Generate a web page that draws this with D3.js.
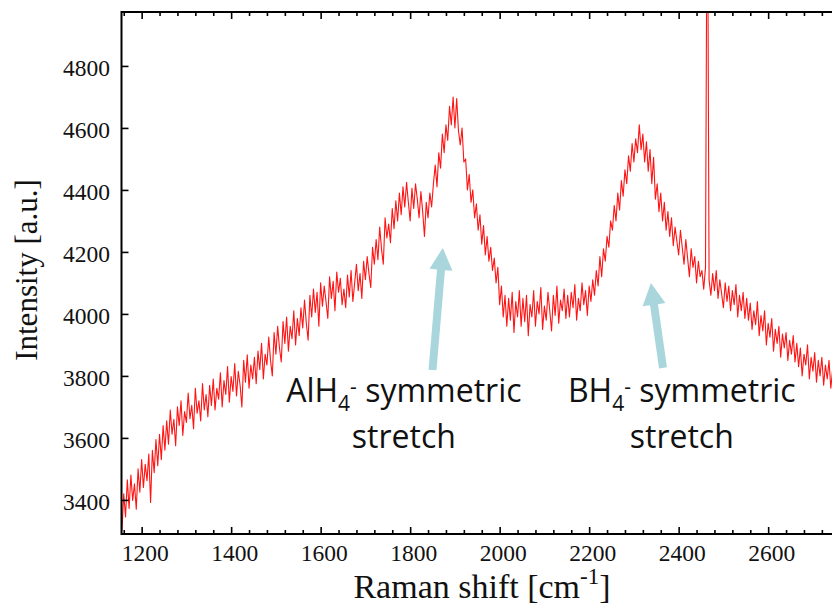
<!DOCTYPE html>
<html>
<head>
<meta charset="utf-8">
<script src="https://cdn.jsdelivr.net/npm/d3@7"></script>
<style>
  html, body { margin: 0; padding: 0; background: #fff; }
  svg { display: block; }
</style>
</head>
<body>
<svg id="chart" width="832" height="604"></svg>
<script>
// Raman spectrum, sampled every 4 cm-1 starting at 1156 cm-1
const shiftStart = 1156;
const shiftStep = 4;
const intensity = [
  // 1156 - 1248
  3300, 3420, 3345, 3465, 3372, 3480, 3398, 3452, 3370, 3500, 3425, 3530, 3440, 3515, 3462, 3548, 3392, 3560, 3488, 3595, 3510, 3612, 3530, 3640,
  // 1252 - 1348
  3560, 3655, 3580, 3690, 3612, 3660, 3575, 3700, 3640, 3720, 3608, 3685, 3650, 3745, 3662, 3705, 3630, 3760, 3680, 3720, 3655, 3775, 3690, 3740, 3668,
  // 1352 - 1448
  3770, 3705, 3790, 3690, 3760, 3725, 3810, 3700, 3785, 3740, 3830, 3715, 3798, 3750, 3840, 3735, 3815, 3770, 3700, 3850, 3780, 3868, 3760, 3835, 3790,
  // 1452 - 1548
  3860, 3775, 3880, 3820, 3905, 3790, 3870, 3835, 3925, 3850, 3800, 3940, 3870, 3960, 3890, 3845, 3975, 3905, 3990, 3880, 3960, 3920, 4010, 3900, 3985,
  // 1552 - 1648
  3930, 4020, 3955, 4045, 3970, 3915, 4060, 3990, 4080, 4005, 4070, 3960, 4100, 4025, 4090, 4040, 3985, 4120, 4050, 4105, 4010, 4135, 4070, 4115, 4030,
  // 1652 - 1748
  4080, 4020, 4125, 4055, 4140, 4040, 4100, 4160, 4075, 4130, 4050, 4170, 4110, 4185, 4130, 4085, 4215, 4160, 4240, 4175, 4280, 4210, 4160, 4310, 4245,
  // 1752 - 1848 (AlH4 shoulder)
  4290, 4230, 4340, 4275, 4365, 4300, 4390, 4320, 4410, 4345, 4425, 4360, 4300, 4405, 4340, 4420, 4370, 4310, 4395, 4330, 4250, 4360, 4310, 4390, 4345,
  // 1852 - 1948 (AlH4 band)
  4420, 4480, 4410, 4520, 4470, 4580, 4520, 4610, 4560, 4670, 4610, 4700, 4600, 4695, 4590, 4545, 4600, 4490, 4500, 4400, 4450, 4360, 4400, 4310, 4355,
  // 1952 - 2048
  4270, 4320, 4225, 4285, 4190, 4250, 4170, 4215, 4140, 4180, 4100, 4150, 4030, 4090, 3990, 4060, 3960, 4050, 3980, 4070, 3940, 4040, 3990, 4075, 3960,
  // 2052 - 2148
  4050, 3975, 4060, 3930, 4030, 3990, 4075, 3960, 4040, 4000, 4085, 3950, 4025, 3980, 4070, 4010, 3945, 4060, 3995, 4090, 3970, 4045, 4010, 4080, 3985,
  // 2152 - 2248
  4060, 3990, 4070, 4020, 4095, 3980, 4050, 4010, 4100, 4030, 4075, 3995, 4090, 4040, 4110, 4060, 4140, 4090, 4185, 4120, 4210, 4170, 4250, 4215, 4300,
  // 2252 - 2348 (BH4 band)
  4270, 4350, 4300, 4390, 4335, 4430, 4380, 4465, 4420, 4510, 4460, 4550, 4490, 4565, 4520, 4610, 4530, 4580, 4490, 4555, 4460, 4530, 4420, 4505, 4370,
  // 2352 - 2448
  4420, 4330, 4390, 4300, 4360, 4270, 4330, 4250, 4310, 4220, 4280, 4235, 4190, 4270, 4215, 4160, 4240, 4180, 4120, 4210, 4150, 4185, 4100, 4170, 4120,
  // 2452 - 2548 (cosmic-ray spike at 2464)
  4140, 4080, 4150, 5600, 4110, 4060, 4130, 4075, 4140, 4050, 4110, 4065, 4020, 4100, 4040, 4090, 4010, 4075, 4030, 4095, 3990, 4060, 4010, 4070, 3985,
  // 2552 - 2648
  4050, 3980, 4035, 3950, 4010, 3965, 4040, 3930, 3995, 3945, 4010, 3900, 3970, 3925, 3985, 3880, 3950, 3905, 3960, 3860, 3935, 3890, 3940, 3850, 3915,
  // 2652 - 2760
  3870, 3930, 3845, 3905, 3830, 3890, 3800, 3870, 3835, 3900, 3790, 3860, 3815, 3875, 3780, 3850, 3800, 3860, 3770, 3835, 3790, 3850, 3760, 3820, 3780, 3840, 3765, 3810
];

const xTicks = [1200, 1400, 1600, 1800, 2000, 2200, 2400, 2600];
const yTicks = [3400, 3600, 3800, 4000, 4200, 4400, 4600, 4800];

// band assignments: arrow from label up to the band, label anchor in data units
const bandLabels = [
  { ion: "AlH", arrowFrom: [1850, 3819], arrowTo: [1873, 4213], textAt: [1786, 3716] },
  { ion: "BH",  arrowFrom: [2365, 3826], arrowTo: [2338, 4100], textAt: [2407, 3716] }
];

const spectrum = intensity.map((v, i) => ({ s: shiftStart + i * shiftStep, v }));

const svg = d3.select("#chart");
const plot = { left: 121.5, right: 842, top: 12, bottom: 534 };

const x = d3.scaleLinear().domain([1155, 2765]).range([plot.left, plot.right]);
const y = d3.scaleLinear().domain([3290, 4974]).range([plot.bottom, plot.top]);

svg.append("defs").append("clipPath").attr("id", "plotClip")
  .append("rect")
  .attr("x", plot.left).attr("y", plot.top)
  .attr("width", plot.right - plot.left).attr("height", plot.bottom - plot.top);

// spectrum trace
const line = d3.line().x(d => x(d.s)).y(d => y(d.v));
svg.append("path")
  .datum(spectrum)
  .attr("clip-path", "url(#plotClip)")
  .attr("fill", "none")
  .attr("stroke", "#ff1414")
  .attr("stroke-width", 1.1)
  .attr("stroke-linejoin", "round")
  .attr("d", line);

// minor x ticks every 40 cm-1
const minorX = d3.range(1160, 2761, 40).filter(v => v % 200 !== 0);

function styleAxis(g) {
  g.select(".domain").remove();
  g.selectAll(".tick line").attr("stroke", "#000").attr("stroke-width", 1.6);
}

const tickFont = "'Liberation Serif', 'Times New Roman', serif";

// bottom axis
svg.append("g")
  .attr("transform", `translate(0,${plot.bottom})`)
  .call(d3.axisBottom(x).tickValues(xTicks).tickSize(-7).tickPadding(10).tickFormat(d3.format("d")))
  .call(styleAxis)
  .call(g => g.selectAll(".tick text")
    .attr("x", 3)
    .attr("fill", "#111")
    .style("font-family", tickFont)
    .style("font-size", "23.5px"));
svg.append("g")
  .attr("transform", `translate(0,${plot.bottom})`)
  .call(d3.axisBottom(x).tickValues(minorX).tickSize(-4).tickFormat(""))
  .call(styleAxis);

// top axis
svg.append("g")
  .attr("transform", `translate(0,${plot.top})`)
  .call(d3.axisTop(x).tickValues(xTicks).tickSize(-7).tickFormat(""))
  .call(styleAxis);
svg.append("g")
  .attr("transform", `translate(0,${plot.top})`)
  .call(d3.axisTop(x).tickValues(minorX).tickSize(-4).tickFormat(""))
  .call(styleAxis);

// left axis
svg.append("g")
  .attr("transform", `translate(${plot.left},0)`)
  .call(d3.axisLeft(y).tickValues(yTicks).tickSize(-7).tickPadding(11.5).tickFormat(d3.format("d")))
  .call(styleAxis)
  .call(g => g.selectAll(".tick text")
    .attr("dy", "0.4em")
    .attr("fill", "#111")
    .style("font-family", tickFont)
    .style("font-size", "23.5px"));

// frame
svg.append("rect")
  .attr("x", plot.left).attr("y", plot.top)
  .attr("width", plot.right - plot.left).attr("height", plot.bottom - plot.top)
  .attr("fill", "none").attr("stroke", "#000").attr("stroke-width", 2);

// axis titles
const xTitle = svg.append("text")
  .attr("x", 482).attr("y", 598)
  .attr("text-anchor", "middle")
  .attr("fill", "#111")
  .style("font-family", tickFont)
  .style("font-size", "34px");
xTitle.append("tspan").text("Raman shift [cm");
xTitle.append("tspan").attr("dy", -14).style("font-size", "23px").text("-1");
xTitle.append("tspan").attr("dy", 14).text("]");

svg.append("text")
  .attr("transform", "translate(37,270) rotate(-90)")
  .attr("text-anchor", "middle")
  .attr("fill", "#111")
  .style("font-family", tickFont)
  .style("font-size", "31px")
  .text("Intensity [a.u.]");

// band annotations
const arrowColor = "#a9d6dc";
function arrowPath(x0, y0, x1, y1) {
  const dx = x1 - x0, dy = y1 - y0;
  const len = Math.hypot(dx, dy);
  const ux = dx / len, uy = dy / len;      // along
  const px = -uy, py = ux;                 // perpendicular
  const shaft = 4, head = 11.5, headLen = 22;
  const nx = x1 - ux * headLen, ny = y1 - uy * headLen;
  const pts = [
    [x0 + px * shaft, y0 + py * shaft],
    [nx + px * shaft, ny + py * shaft],
    [nx + px * head, ny + py * head],
    [x1, y1],
    [nx - px * head, ny - py * head],
    [nx - px * shaft, ny - py * shaft],
    [x0 - px * shaft, y0 - py * shaft]
  ];
  return "M" + pts.map(p => p.join(",")).join("L") + "Z";
}

const labelFont = "'Open Sans', 'Noto Sans', sans-serif";
bandLabels.forEach(b => {
  svg.append("path")
    .attr("d", arrowPath(x(b.arrowFrom[0]), y(b.arrowFrom[1]), x(b.arrowTo[0]), y(b.arrowTo[1])))
    .attr("fill", arrowColor);

  const tx = x(b.textAt[0]), ty = y(b.textAt[1]);
  const t = svg.append("text")
    .attr("x", tx).attr("y", ty)
    .attr("text-anchor", "middle")
    .attr("fill", "#111")
    .style("font-family", labelFont)
    .style("font-size", "32px");
  t.append("tspan").text(b.ion);
  t.append("tspan").attr("dy", 9).style("font-size", "21px").text("4");
  t.append("tspan").attr("dy", -17).style("font-size", "21px").text("-");
  t.append("tspan").attr("dy", 8).text(" symmetric");

  svg.append("text")
    .attr("x", tx).attr("y", ty + 46)
    .attr("text-anchor", "middle")
    .attr("fill", "#111")
    .style("font-family", labelFont)
    .style("font-size", "32px")
    .text("stretch");
});
</script>
</body>
</html>
